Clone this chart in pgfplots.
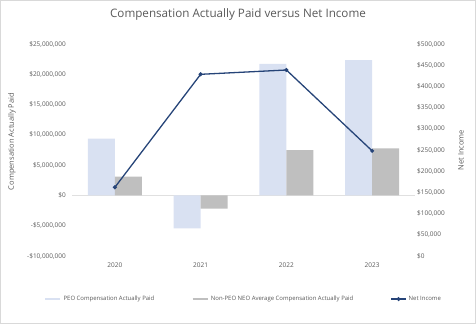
\documentclass[border=0pt]{standalone}
\usepackage{fontspec}
\setmainfont{Open Sans}
\usepackage{pgfplots}
\pgfplotsset{compat=1.18}
\definecolor{peo}{RGB}{217,225,242}
\definecolor{neo}{RGB}{191,191,191}
\definecolor{ni}{RGB}{38,68,120}
\definecolor{txt}{RGB}{89,89,89}
\begin{document}
\begin{tikzpicture}[x=1bp,y=1bp]
\draw[black!15, line width=0.8bp] (0.4,0.4) rectangle (475.6,323.6);
\node[txt, font=\fontsize{11.7}{14}\selectfont] at (238,310) {Compensation Actually Paid versus Net Income};
\begin{axis}[
  at={(72bp,68bp)}, anchor=south west,
  scale only axis, width=343bp, height=212bp,
  xmin=-0.5, xmax=3.5, ymin=-10000000, ymax=25000000,
  ybar=0pt, bar width=27bp,
  axis line style={draw=none}, major tick length=0pt,
  xtick={0,1,2,3}, xticklabels={2020,2021,2022,2023},
  ytick={-10000000,-5000000,0,5000000,10000000,15000000,20000000,25000000},
  yticklabels={{-\$10,000,000},{-\$5,000,000},{\$0},{\$5,000,000},{\$10,000,000},{\$15,000,000},{\$20,000,000},{\$25,000,000}},
  scaled y ticks=false,
  tick label style={txt, font=\fontsize{6.5}{8}\selectfont},
  yticklabel style={inner sep=0pt, xshift=-6bp},
  xticklabel style={inner sep=0pt, yshift=-7bp},
  ylabel={Compensation Actually Paid},
  ylabel style={txt, font=\fontsize{7.5}{9}\selectfont, at={(axis description cs:-0.175,0.54)}, anchor=center, rotate=0},
  clip=false,
]
\draw[black!12, line width=0.8bp] (axis cs:-0.5,0) -- (axis cs:3.5,0);
\addplot[fill=peo, draw=none] coordinates {(0,9360000) (1,-5430000) (2,21700000) (3,22350000)};
\addplot[fill=neo, draw=none] coordinates {(0,3090000) (1,-2190000) (2,7500000) (3,7780000)};
\end{axis}
\begin{axis}[
  at={(72bp,68bp)}, anchor=south west,
  scale only axis, width=343bp, height=212bp,
  xmin=-0.5, xmax=3.5, ymin=0, ymax=500000,
  axis x line=none, axis y line*=right,
  axis line style={draw=none}, major tick length=0pt,
  ytick={0,50000,100000,150000,200000,250000,300000,350000,400000,450000,500000},
  yticklabels={{\$0},{\$50,000},{\$100,000},{\$150,000},{\$200,000},{\$250,000},{\$300,000},{\$350,000},{\$400,000},{\$450,000},{\$500,000}},
  scaled y ticks=false,
  tick label style={txt, font=\fontsize{6.5}{8}\selectfont},
  yticklabel style={inner sep=0pt, xshift=2bp},
  ylabel={Net Income},
  ylabel style={txt, font=\fontsize{7.5}{9}\selectfont, at={(axis description cs:1.134,0.5)}, anchor=center},
  legend columns=3,
  legend style={at={(0.5,-0.203)}, anchor=center, draw=none, fill=none,
    font=\fontsize{6}{7}\selectfont, text=txt,
    /tikz/every even column/.append style={column sep=35bp}},
  legend image code/.code={\draw[#1,mark repeat=2,mark phase=2] plot coordinates {(0bp,0bp)(7.5bp,0bp)(15bp,0bp)};},
  clip=false,
]
\addlegendimage{peo, line width=2.5bp}
\addlegendentry{PEO Compensation Actually Paid}
\addlegendimage{neo, line width=2.5bp}
\addlegendentry{Non-PEO NEO Average Compensation Actually Paid}
\addplot[ni, line width=1.3bp, mark=*, mark size=1.3bp] coordinates {(0,162000) (1,428500) (2,438700) (3,248000)};
\addlegendentry{Net Income}
\end{axis}
\end{tikzpicture}
\end{document}
